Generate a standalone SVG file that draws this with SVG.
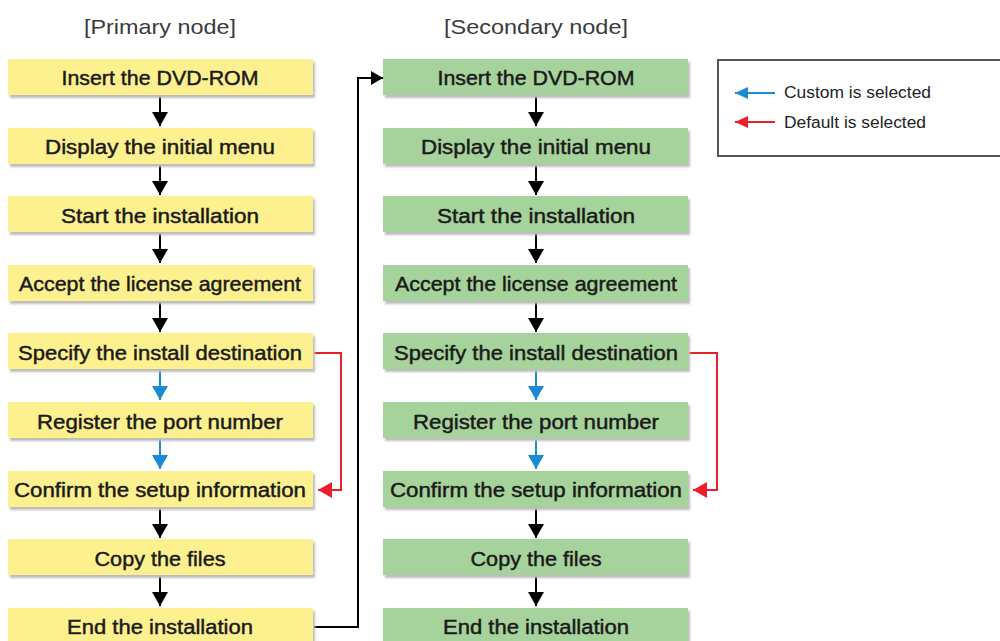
<svg xmlns="http://www.w3.org/2000/svg" width="1000" height="641" viewBox="0 0 1000 641">
<style>
.t{font-family:"Liberation Sans",Arial,sans-serif;font-size:20px;fill:#1a1a1a;stroke:#1a1a1a;stroke-width:0.45;text-anchor:middle}
.h{font-family:"Liberation Sans",Arial,sans-serif;font-size:21px;fill:#3a3a3a;text-anchor:middle}
.l{font-family:"Liberation Sans",Arial,sans-serif;font-size:16px;fill:#222}
.y{fill:#fdf18f}
.g{fill:#a6d39b}
.sh{fill:#bdbdbd}
.k{stroke:#000;stroke-width:2;fill:none}
.b{stroke:#1a8ad4;stroke-width:2;fill:none}
.r{stroke:#e8202a;stroke-width:2;fill:none}
</style>
<defs>
<marker id="ak" viewBox="0 0 14 16" refX="14" refY="8" markerWidth="14" markerHeight="16" markerUnits="userSpaceOnUse" orient="auto"><path d="M0,0L14,8L0,16z" fill="#000"/></marker>
<marker id="ab" viewBox="0 0 14 16" refX="14" refY="8" markerWidth="14" markerHeight="16" markerUnits="userSpaceOnUse" orient="auto"><path d="M0,0L14,8L0,16z" fill="#1a8ad4"/></marker>
<marker id="ar" viewBox="0 0 14 16" refX="14" refY="8" markerWidth="14" markerHeight="16" markerUnits="userSpaceOnUse" orient="auto"><path d="M0,0L14,8L0,16z" fill="#e8202a"/></marker>
<marker id="ak2" viewBox="0 0 12 14" refX="12" refY="7" markerWidth="12" markerHeight="14" markerUnits="userSpaceOnUse" orient="auto"><path d="M0,0L12,7L0,14z" fill="#000"/></marker>
<marker id="lb" viewBox="0 0 13 12" refX="13" refY="6" markerWidth="13" markerHeight="12" markerUnits="userSpaceOnUse" orient="auto"><path d="M0,0L13,6L0,12z" fill="#1a8ad4"/></marker>
<marker id="lr" viewBox="0 0 13 12" refX="13" refY="6" markerWidth="13" markerHeight="12" markerUnits="userSpaceOnUse" orient="auto"><path d="M0,0L13,6L0,12z" fill="#e8202a"/></marker>
<filter id="blur" x="-5%" y="-20%" width="110%" height="140%"><feGaussianBlur stdDeviation="1.2"/></filter>
</defs>
<rect width="1000" height="641" fill="#fff"/>
<text class="h" x="160" y="34" textLength="152" lengthAdjust="spacingAndGlyphs">[Primary node]</text>
<text class="h" x="536" y="34" textLength="184" lengthAdjust="spacingAndGlyphs">[Secondary node]</text>

<g id="connectors">
<path class="k" d="M160,96V126" marker-end="url(#ak)"/>
<path class="k" d="M160,165V195" marker-end="url(#ak)"/>
<path class="k" d="M160,233V263" marker-end="url(#ak)"/>
<path class="k" d="M160,302V332" marker-end="url(#ak)"/>
<path class="b" d="M160,370V400" marker-end="url(#ab)"/>
<path class="b" d="M160,439V469" marker-end="url(#ab)"/>
<path class="k" d="M160,508V538" marker-end="url(#ak)"/>
<path class="k" d="M160,576V606" marker-end="url(#ak)"/>
<path class="r" d="M314,353H341V490H318" marker-end="url(#ar)"/>
<path class="k" d="M314,627H358V78H383" marker-end="url(#ak2)"/>
<path class="k" d="M536,96V126" marker-end="url(#ak)"/>
<path class="k" d="M536,165V195" marker-end="url(#ak)"/>
<path class="k" d="M536,233V263" marker-end="url(#ak)"/>
<path class="k" d="M536,302V332" marker-end="url(#ak)"/>
<path class="b" d="M536,370V400" marker-end="url(#ab)"/>
<path class="b" d="M536,439V469" marker-end="url(#ab)"/>
<path class="k" d="M536,508V538" marker-end="url(#ak)"/>
<path class="k" d="M536,576V606" marker-end="url(#ak)"/>
<path class="r" d="M689,353H717V490H693" marker-end="url(#ar)"/>
</g>

<g id="p1"><rect class="sh" x="10" y="62" width="305" height="36" filter="url(#blur)"/><rect class="y" x="8" y="59" width="305" height="36"/><text class="t" x="160" y="85" textLength="197" lengthAdjust="spacingAndGlyphs">Insert the DVD-ROM</text></g>
<g id="p2"><rect class="sh" x="10" y="131" width="305" height="36" filter="url(#blur)"/><rect class="y" x="8" y="128" width="305" height="36"/><text class="t" x="160" y="154" textLength="230" lengthAdjust="spacingAndGlyphs">Display the initial menu</text></g>
<g id="p3"><rect class="sh" x="10" y="199" width="305" height="36" filter="url(#blur)"/><rect class="y" x="8" y="196" width="305" height="36"/><text class="t" x="160" y="223" textLength="198" lengthAdjust="spacingAndGlyphs">Start the installation</text></g>
<g id="p4"><rect class="sh" x="10" y="268" width="305" height="36" filter="url(#blur)"/><rect class="y" x="8" y="265" width="305" height="36"/><text class="t" x="160" y="291" textLength="282" lengthAdjust="spacingAndGlyphs">Accept the license agreement</text></g>
<g id="p5"><rect class="sh" x="10" y="336" width="305" height="36" filter="url(#blur)"/><rect class="y" x="8" y="333" width="305" height="36"/><text class="t" x="160" y="360" textLength="284" lengthAdjust="spacingAndGlyphs">Specify the install destination</text></g>
<g id="p6"><rect class="sh" x="10" y="405" width="305" height="36" filter="url(#blur)"/><rect class="y" x="8" y="402" width="305" height="36"/><text class="t" x="160" y="429" textLength="246" lengthAdjust="spacingAndGlyphs">Register the port number</text></g>
<g id="p7"><rect class="sh" x="10" y="474" width="305" height="36" filter="url(#blur)"/><rect class="y" x="8" y="471" width="305" height="36"/><text class="t" x="160" y="497" textLength="292" lengthAdjust="spacingAndGlyphs">Confirm the setup information</text></g>
<g id="p8"><rect class="sh" x="10" y="542" width="305" height="36" filter="url(#blur)"/><rect class="y" x="8" y="539" width="305" height="36"/><text class="t" x="160" y="566" textLength="131" lengthAdjust="spacingAndGlyphs">Copy the files</text></g>
<g id="p9"><rect class="sh" x="10" y="611" width="305" height="36" filter="url(#blur)"/><rect class="y" x="8" y="608" width="305" height="36"/><text class="t" x="160" y="634" textLength="186" lengthAdjust="spacingAndGlyphs">End the installation</text></g>

<g id="s1"><rect class="sh" x="385" y="62" width="305" height="36" filter="url(#blur)"/><rect class="g" x="383" y="59" width="305" height="36"/><text class="t" x="536" y="85" textLength="197" lengthAdjust="spacingAndGlyphs">Insert the DVD-ROM</text></g>
<g id="s2"><rect class="sh" x="385" y="131" width="305" height="36" filter="url(#blur)"/><rect class="g" x="383" y="128" width="305" height="36"/><text class="t" x="536" y="154" textLength="230" lengthAdjust="spacingAndGlyphs">Display the initial menu</text></g>
<g id="s3"><rect class="sh" x="385" y="199" width="305" height="36" filter="url(#blur)"/><rect class="g" x="383" y="196" width="305" height="36"/><text class="t" x="536" y="223" textLength="198" lengthAdjust="spacingAndGlyphs">Start the installation</text></g>
<g id="s4"><rect class="sh" x="385" y="268" width="305" height="36" filter="url(#blur)"/><rect class="g" x="383" y="265" width="305" height="36"/><text class="t" x="536" y="291" textLength="282" lengthAdjust="spacingAndGlyphs">Accept the license agreement</text></g>
<g id="s5"><rect class="sh" x="385" y="336" width="305" height="36" filter="url(#blur)"/><rect class="g" x="383" y="333" width="305" height="36"/><text class="t" x="536" y="360" textLength="284" lengthAdjust="spacingAndGlyphs">Specify the install destination</text></g>
<g id="s6"><rect class="sh" x="385" y="405" width="305" height="36" filter="url(#blur)"/><rect class="g" x="383" y="402" width="305" height="36"/><text class="t" x="536" y="429" textLength="246" lengthAdjust="spacingAndGlyphs">Register the port number</text></g>
<g id="s7"><rect class="sh" x="385" y="474" width="305" height="36" filter="url(#blur)"/><rect class="g" x="383" y="471" width="305" height="36"/><text class="t" x="536" y="497" textLength="292" lengthAdjust="spacingAndGlyphs">Confirm the setup information</text></g>
<g id="s8"><rect class="sh" x="385" y="542" width="305" height="36" filter="url(#blur)"/><rect class="g" x="383" y="539" width="305" height="36"/><text class="t" x="536" y="566" textLength="131" lengthAdjust="spacingAndGlyphs">Copy the files</text></g>
<g id="s9"><rect class="sh" x="385" y="611" width="305" height="36" filter="url(#blur)"/><rect class="g" x="383" y="608" width="305" height="36"/><text class="t" x="536" y="634" textLength="186" lengthAdjust="spacingAndGlyphs">End the installation</text></g>

<g id="legend">
<rect x="718" y="60" width="290" height="96" fill="#fff" stroke="#555" stroke-width="2"/>
<path class="b" d="M775,93H735" marker-end="url(#lb)"/>
<path class="r" d="M775,122H735" marker-end="url(#lr)"/>
<text class="l" x="784" y="98" textLength="147" lengthAdjust="spacingAndGlyphs">Custom is selected</text>
<text class="l" x="784" y="128" textLength="142" lengthAdjust="spacingAndGlyphs">Default is selected</text>
</g>
</svg>
